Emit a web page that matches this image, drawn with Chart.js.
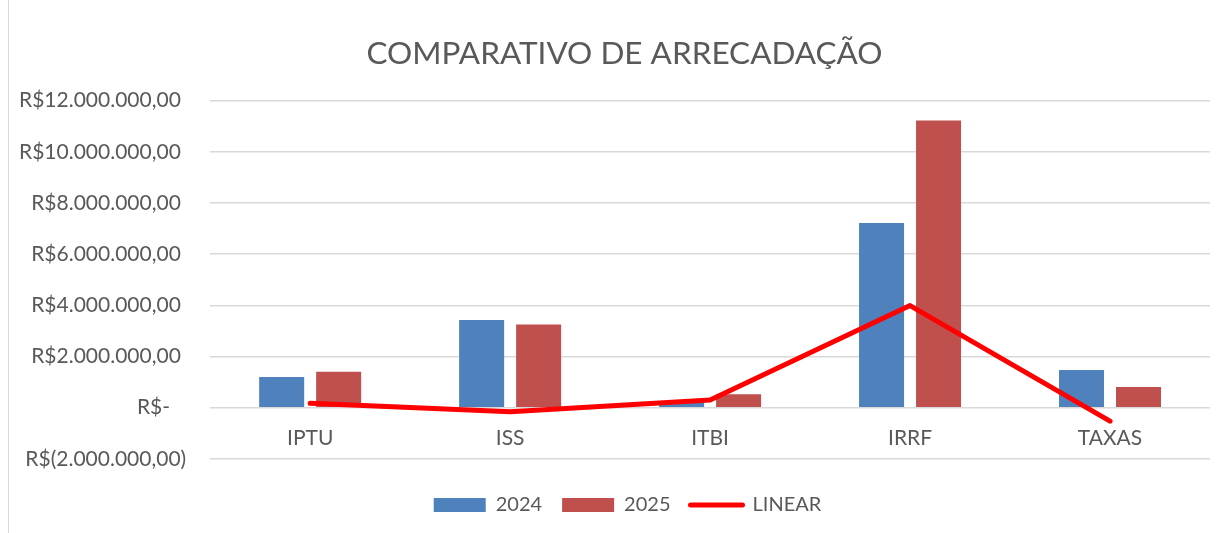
<!DOCTYPE html>
<html>
<head>
<meta charset="utf-8">
<script src="https://cdn.jsdelivr.net/npm/chart.js@4.4.1/dist/chart.umd.min.js"></script>
<style>
  html, body { margin: 0; padding: 0; background: #fff; }
  #wrap { position: relative; width: 1226px; height: 533px; }
  #edge { position: absolute; left: 8px; top: 0; width: 1px; height: 533px; background: #d9d9d9; }
  canvas { position: absolute; left: 0; top: 0; }
</style>
</head>
<body>
<div id="wrap">
  <div id="edge"></div>
  <canvas id="chart" width="1226" height="533"></canvas>
</div>
<script>
// === Data ===
const categories = ['IPTU', 'ISS', 'ITBI', 'IRRF', 'TAXAS'];
const values2024 = [1200000, 3430000, 200000, 7220000, 1470000];
const values2025 = [1400000, 3250000, 520000, 11230000, 810000];
const linearValues = [170000, -160000, 300000, 3990000, -530000];

const FONT = 'Lato, "Open Sans", sans-serif';
const TEXT = '#595959';
const GRID = '#d9d9d9';

// Excel-style accounting format: R$12.000.000,00 / R$- / R$(2.000.000,00)
function fmtMoney(v) {
    if (v === 0) return 'R$-   ';
    const s = String(Math.abs(v)).replace(/\B(?=(\d{3})+(?!\d))/g, '.') + ',00';
    return v < 0 ? 'R$(' + s + ')' : 'R$' + s + ' ';
}

// Excel centres title and legend a little right of the canvas middle
const blockShift = {
    id: 'blockShift',
    afterLayout(chart) {
        chart.legend.left += 25;
        chart.legend.right += 25;
        chart.titleBlock.left += 22;
        chart.titleBlock.right += 22;
    }
};

const ctx = document.getElementById('chart').getContext('2d');
new Chart(ctx, {
    type: 'bar',
    data: {
        labels: categories,
        datasets: [
            { label: '2024', data: values2024, backgroundColor: '#4F81BD', order: 1 },
            { label: '2025', data: values2025, backgroundColor: '#C0504D', order: 1 },
            {
                type: 'line',
                label: 'LINEAR',
                data: linearValues,
                borderColor: '#FF0000',
                backgroundColor: '#FF0000',
                borderWidth: 5,
                borderCapStyle: 'round',
                borderJoinStyle: 'round',
                pointRadius: 0,
                tension: 0,
                order: 0
            }
        ]
    },
    plugins: [blockShift],
    options: {
        responsive: false,
        animation: false,
        layout: { padding: { left: -5, right: 16, top: 0, bottom: 8 } },
        datasets: { bar: { categoryPercentage: 0.57, barPercentage: 0.79 } },
        scales: {
            x: {
                position: { y: 0 },
                grid: { display: false, drawTicks: false },
                border: { display: false },
                ticks: { color: TEXT, font: { family: FONT, size: 21 }, padding: 18 }
            },
            y: {
                min: -2000000,
                max: 12000000,
                grid: { color: GRID, lineWidth: 1.5, drawTicks: false },
                border: { display: false },
                ticks: {
                    stepSize: 2000000,
                    color: TEXT,
                    font: { family: FONT, size: 21 },
                    padding: 24,
                    callback: fmtMoney
                }
            }
        },
        plugins: {
            title: {
                display: true,
                text: 'COMPARATIVO DE ARRECADAÇÃO',
                color: TEXT,
                font: { family: FONT, size: 31.5, weight: 'normal' },
                padding: { top: 34.5, bottom: 28.4 }
            },
            legend: {
                position: 'bottom',
                title: { display: true, text: '', font: { size: 1 }, padding: 7.5 },
                labels: {
                    color: TEXT,
                    font: { family: FONT, size: 20 },
                    usePointStyle: true,
                    pointStyleWidth: 52,
                    boxHeight: 14,
                    padding: 20,
                    generateLabels(chart) {
                        const items = Chart.defaults.plugins.legend.labels.generateLabels(chart);
                        items.forEach(it => {
                            if (it.datasetIndex === 2) {
                                it.pointStyle = 'line';
                                it.lineWidth = 5;
                                it.lineCap = 'round';
                                it.strokeStyle = '#FF0000';
                            } else {
                                it.pointStyle = 'rect';
                                it.lineWidth = 0;
                            }
                        });
                        return items.sort((a, b) => a.datasetIndex - b.datasetIndex);
                    }
                }
            },
            tooltip: { enabled: false }
        }
    }
});
</script>
</body>
</html>
